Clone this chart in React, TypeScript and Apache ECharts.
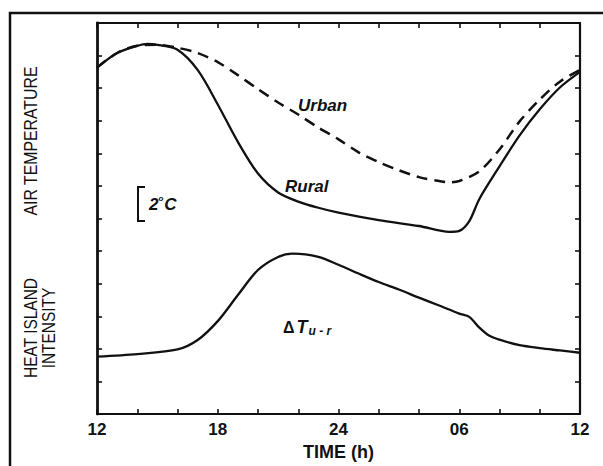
import React, { useEffect, useRef } from 'react';
import * as echarts from 'echarts';

// Hours elapsed since 12:00 (noon) on the x axis; y axis in arbitrary units (1 unit = 2°C)
const xTickLabels = ['12', '18', '24', '06', '12'];

const ruralHours = [0, 1, 2, 2.5, 3, 4, 5, 6, 7, 8, 9, 10, 11, 12, 14, 16, 17.5, 18, 18.5, 19, 20, 21, 22, 23, 24];
const ruralTemp = [10.63, 11.08, 11.3, 11.36, 11.33, 11.18, 10.56, 9.5, 8.35, 7.38, 6.8, 6.52, 6.33, 6.18, 5.95, 5.77, 5.59, 5.62, 5.92, 6.6, 7.6, 8.55, 9.35, 10.02, 10.5];

const urbanHours = [0, 1, 2, 3, 4, 5, 6, 7, 8, 9, 10, 11, 12, 13, 14, 15, 16, 17, 17.5, 18, 19, 20, 21, 22, 23, 24];
const urbanTemp = [10.63, 11.08, 11.3, 11.33, 11.24, 11.08, 10.8, 10.4, 9.97, 9.56, 9.19, 8.79, 8.43, 8.03, 7.73, 7.48, 7.27, 7.15, 7.11, 7.15, 7.45, 8.12, 8.98, 9.65, 10.2, 10.56];

const islandHours = [0, 2, 4, 5, 6, 7, 8, 9, 9.75, 11, 12, 13, 14, 15, 16, 17, 18, 18.5, 19, 19.5, 20, 21, 22, 23, 24];
const islandDelta = [1.76, 1.84, 1.98, 2.27, 2.85, 3.65, 4.42, 4.82, 4.92, 4.82, 4.58, 4.31, 4.05, 3.82, 3.57, 3.33, 3.08, 2.98, 2.65, 2.4, 2.28, 2.11, 2.02, 1.95, 1.88];

const zip = (xs: number[], ys: number[]) => xs.map((x, i) => [x, ys[i]]);

const FONT = 'Liberation Sans, Arial, sans-serif';

export default function App() {
  const ref = useRef<HTMLDivElement>(null);
  useEffect(() => {
    if (!ref.current) return;
    const chart = echarts.init(ref.current, undefined, { renderer: 'svg' });
    const tickStyle = { show: true, inside: true, length: 5, lineStyle: { color: '#111', width: 1.6 } };
    const lineAxis = { show: true, onZero: false, lineStyle: { color: '#111', width: 2.2 } };
    const baseLine = { color: '#111', width: 2.3 };
    chart.setOption({
      animation: false,
      backgroundColor: '#fff',
      grid: { left: 97, right: 23, top: 23, bottom: 50 },
      xAxis: [
        {
          type: 'value', position: 'bottom', min: 0, max: 24, interval: 2,
          axisLine: lineAxis, axisTick: tickStyle, splitLine: { show: false },
          axisLabel: {
            formatter: (v: number) => (v % 6 === 0 ? xTickLabels[v / 6] : ''),
            color: '#111', fontWeight: 'bold', fontSize: 17, fontFamily: FONT, margin: 7,
          },
          name: 'TIME (h)', nameLocation: 'middle', nameGap: 29,
          nameTextStyle: { color: '#111', fontWeight: 'bold', fontSize: 18, fontFamily: FONT },
        },
        {
          type: 'value', position: 'top', min: 0, max: 24, interval: 2,
          axisLine: lineAxis, axisTick: tickStyle, splitLine: { show: false }, axisLabel: { show: false },
        },
      ],
      yAxis: [
        {
          type: 'value', position: 'left', min: 0, max: 12, interval: 1,
          axisLine: { show: true, onZero: false, lineStyle: { color: '#111', width: 2.8 } }, axisTick: tickStyle,
          splitLine: { show: false }, axisLabel: { show: false },
        },
        {
          type: 'value', position: 'right', min: 0, max: 12, interval: 1,
          axisLine: lineAxis, axisTick: tickStyle,
          splitLine: { show: false }, axisLabel: { show: false },
        },
      ],
      series: [
        {
          name: 'Urban', type: 'line', data: zip(urbanHours, urbanTemp), showSymbol: false, smooth: 0.3,
          lineStyle: { color: '#111', width: 2.5, type: [11, 7] },
        },
        {
          name: 'Rural', type: 'line', data: zip(ruralHours, ruralTemp), showSymbol: false, smooth: 0.3,
          lineStyle: baseLine,
        },
        {
          name: 'ΔTu-r', type: 'line', data: zip(islandHours, islandDelta), showSymbol: false, smooth: 0.3,
          lineStyle: baseLine,
        },
      ],
      graphic: [
        { type: 'rect', shape: { x: 10, y: 13, width: 600, height: 470 }, style: { fill: 'none', stroke: '#111', lineWidth: 2.5 } },
        {
          type: 'text', x: 31, y: 141, rotation: Math.PI / 2, scaleX: 0.88,
          style: { text: 'AIR TEMPERATURE', font: `18px ${FONT}`, fill: '#111', textAlign: 'center', textVerticalAlign: 'middle' },
        },
        {
          type: 'text', x: 40, y: 328, rotation: Math.PI / 2, scaleX: 0.86,
          style: { text: 'HEAT ISLAND\nINTENSITY', font: `18px ${FONT}`, lineHeight: 18, fill: '#111', textAlign: 'center', textVerticalAlign: 'middle' },
        },
        {
          type: 'polyline', shape: { points: [[145, 187], [138, 187], [138, 221], [145, 221]] },
          style: { stroke: '#111', lineWidth: 2, fill: 'none' },
        },
        {
          type: 'text', x: 149, y: 204,
          style: {
            text: '{a|2}{s|o}{a|C}', textVerticalAlign: 'middle', fill: '#111',
            rich: {
              a: { font: `italic bold 17px ${FONT}`, fill: '#111' },
              s: { font: `italic bold 8px ${FONT}`, fill: '#111', verticalAlign: 'top', padding: [0, 1, 12, 0] },
            },
          },
        },
        {
          type: 'text', x: 298, y: 105,
          style: { text: 'Urban', font: `italic bold 17px ${FONT}`, fill: '#111', textVerticalAlign: 'middle' },
        },
        {
          type: 'text', x: 285, y: 186,
          style: { text: 'Rural', font: `italic bold 17px ${FONT}`, fill: '#111', textVerticalAlign: 'middle' },
        },
        {
          type: 'text', x: 283, y: 327,
          style: {
            text: '{d|Δ}{t|T}{u|u - r}', textVerticalAlign: 'middle', fill: '#111',
            rich: {
              d: { font: `bold 16px ${FONT}`, fill: '#111', padding: [0, 2, 0, 0] },
              t: { font: `italic bold 18px ${FONT}`, fill: '#111' },
              u: { font: `italic bold 12px ${FONT}`, fill: '#111', padding: [8, 0, 0, 1] },
            },
          },
        },
      ],
    });
    return () => chart.dispose();
  }, []);
  return <div ref={ref} style={{ position: 'absolute', left: 0, top: 0, width: 603, height: 466 }} />;
}
